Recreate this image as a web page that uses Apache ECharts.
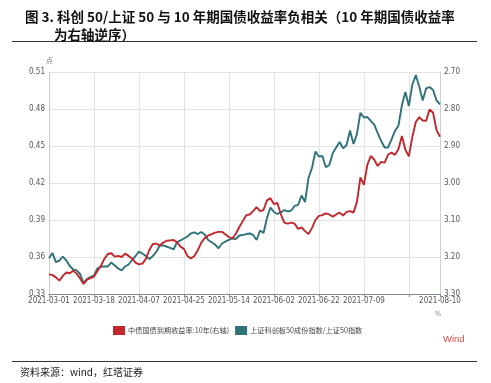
<!DOCTYPE html>
<html>
<head>
<meta charset="utf-8">
<script src="https://cdn.jsdelivr.net/npm/echarts@6/dist/echarts.min.js"></script>
<style>
html,body{margin:0;padding:0;background:#fff;}
#c{width:491px;height:383px;}
</style>
</head>
<body>
<div id="c"></div>
<script>
// Trading dates (category axis)
var dates = [
"2021-03-01","2021-03-02","2021-03-03","2021-03-04","2021-03-05","2021-03-08","2021-03-09","2021-03-10","2021-03-11","2021-03-12",
"2021-03-15","2021-03-16","2021-03-17","2021-03-18","2021-03-19","2021-03-22","2021-03-23","2021-03-24","2021-03-25","2021-03-26",
"2021-03-29","2021-03-30","2021-03-31","2021-04-01","2021-04-02","2021-04-06","2021-04-07","2021-04-08","2021-04-09","2021-04-12",
"2021-04-13","2021-04-14","2021-04-15","2021-04-16","2021-04-19","2021-04-20","2021-04-21","2021-04-22","2021-04-23","2021-04-25",
"2021-04-26","2021-04-27","2021-04-28","2021-04-29","2021-04-30","2021-05-06","2021-05-07","2021-05-08","2021-05-10","2021-05-11",
"2021-05-12","2021-05-13","2021-05-14","2021-05-17","2021-05-18","2021-05-19","2021-05-20","2021-05-21","2021-05-24","2021-05-25",
"2021-05-26","2021-05-27","2021-05-28","2021-05-31","2021-06-01","2021-06-02","2021-06-03","2021-06-04","2021-06-07","2021-06-08",
"2021-06-09","2021-06-10","2021-06-11","2021-06-15","2021-06-16","2021-06-17","2021-06-18","2021-06-21","2021-06-22","2021-06-23",
"2021-06-24","2021-06-25","2021-06-28","2021-06-29","2021-06-30","2021-07-01","2021-07-02","2021-07-05","2021-07-06","2021-07-07",
"2021-07-08","2021-07-09","2021-07-12","2021-07-13","2021-07-14","2021-07-15","2021-07-16","2021-07-19","2021-07-20","2021-07-21",
"2021-07-22","2021-07-23","2021-07-26","2021-07-27","2021-07-28","2021-07-29","2021-07-30","2021-08-02","2021-08-03","2021-08-04",
"2021-08-05","2021-08-06","2021-08-09","2021-08-10"
];
// Series: 中债国债到期收益率:10年 (right axis, inverted)
var bondYield = [
3.247,3.249,3.255,3.264,3.251,3.242,3.244,3.237,3.245,3.258,
3.273,3.261,3.257,3.253,3.238,3.224,3.205,3.192,3.190,3.199,
3.197,3.200,3.191,3.197,3.204,3.215,3.220,3.218,3.205,3.181,
3.165,3.164,3.169,3.161,3.156,3.155,3.154,3.160,3.172,3.178,
3.197,3.204,3.197,3.182,3.161,3.149,3.142,3.138,3.134,3.132,
3.132,3.139,3.146,3.150,3.137,3.119,3.103,3.087,3.085,3.076,
3.065,3.076,3.073,3.047,3.041,3.057,3.054,3.084,3.107,3.110,
3.107,3.110,3.124,3.120,3.130,3.138,3.122,3.100,3.089,3.087,
3.082,3.085,3.091,3.085,3.080,3.088,3.078,3.076,3.080,3.051,
2.985,3.005,2.951,2.927,2.937,2.954,2.943,2.945,2.923,2.918,
2.924,2.908,2.873,2.910,2.928,2.876,2.835,2.822,2.831,2.832,
2.801,2.810,2.857,2.875
];
// Series: 上证科创板50成份指数/上证50指数 (left axis); null = weekend make-up day, no stock trading
var ratio = [
0.3590,0.3632,0.3559,0.3570,0.3604,0.3572,0.3527,0.3499,0.3491,0.3462,
0.3389,0.3422,0.3438,0.3450,0.3507,0.3521,0.3523,0.3523,0.3555,0.3531,
0.3507,0.3491,0.3523,0.3539,0.3576,0.3608,0.3643,0.3628,0.3608,0.3584,
0.3608,0.3641,0.3693,0.3693,0.3685,0.3673,0.3661,0.3720,0.3734,null,
0.3766,0.3791,0.3799,0.3786,0.3803,0.3782,0.3738,null,0.3701,0.3671,
0.3709,0.3726,0.3738,0.3750,0.3746,0.3774,0.3778,0.3786,0.3791,0.3778,
0.3738,0.3815,0.3795,0.3916,0.4001,0.3965,0.3949,0.3961,0.3981,0.3969,
0.3977,0.4014,0.4022,0.4099,0.4046,0.4241,0.4322,0.4455,0.4415,0.4419,
0.4327,0.4346,0.4441,0.4488,0.4532,0.4481,0.4508,0.4626,0.4516,0.4597,
0.4770,0.4731,0.4735,0.4703,0.4674,0.4605,0.4541,0.4488,0.4488,0.4553,
0.4622,0.4666,0.4832,0.4938,0.4824,0.4995,0.5076,0.4982,0.4869,0.4968,
0.4978,0.4954,0.4869,0.4838
];
var leftTicks = [0.33, 0.51, 0.03];
var rightTicks = [2.70, 3.30, 0.10];
var seriesNames = ["中债国债到期收益率:10年(右轴)", "上证科创板50成份指数/上证50指数"];
var titleLine1 = "图 3. 科创 50/上证 50 与 10 年期国债收益率负相关（10 年期国债收益率";
var titleLine2 = "为右轴逆序）";
var sourceText = "资料来源：wind，红塔证券";
</script>
<script>
var RED = '#C1272D', TEAL = '#2D7378';
var narrow = "'Liberation Sans Narrow','DejaVu Sans Condensed','Noto Sans CJK SC',sans-serif";
var chart = echarts.init(document.getElementById('c'), null, {renderer:'canvas'});
var last = dates.length - 1;
chart.setOption({
  animation: false,
  backgroundColor: '#fff',
  title: [
    {text: titleLine1, left: 20, top: 5, textStyle:{fontSize:13.5, fontWeight:'bold', color:'#111', fontFamily:"'Noto Sans CJK SC',sans-serif"}},
    {text: titleLine2, left: 49, top: 23, textStyle:{fontSize:13.5, fontWeight:'bold', color:'#111', fontFamily:"'Noto Sans CJK SC',sans-serif"}}
  ],
  graphic: [
    {type:'line', shape:{x1:12,y1:41.5,x2:477,y2:41.5}, style:{stroke:'#333', lineWidth:1}},
    {type:'line', shape:{x1:12,y1:361.5,x2:477,y2:361.5}, style:{stroke:'#333', lineWidth:1}},
    {type:'text', left:46, top:57, style:{text:'点', fontSize:7, fill:'#777', fontFamily:"'Noto Sans CJK SC',sans-serif"}},
    {type:'text', left:435, top:311, style:{text:'%', fontSize:7, fill:'#777', fontFamily:narrow}},
    {type:'text', left:443, top:334, style:{text:'Wind', fontSize:9.5, fill:'#E0474C', fontFamily:"'Liberation Sans',sans-serif"}},
    {type:'text', left:20, top:367, style:{text:sourceText, fontSize:10, fill:'#222', fontFamily:"'Noto Sans CJK SC',sans-serif"}}
  ],
  legend: {
    left: 108, top: 321, itemWidth: 12, itemHeight: 9, itemGap: 6,
    icon: 'rect',
    textStyle: {fontSize: 7.2, color: '#444', fontFamily: "'Noto Sans CJK SC',sans-serif", padding:[0,0,0,-2]},
    data: [
      {name: seriesNames[0], itemStyle:{color:RED}},
      {name: seriesNames[1], itemStyle:{color:TEAL}}
    ]
  },
  grid: {left: 49, right: 51, top: 72, bottom: 89, containLabel: false},
  xAxis: {
    type: 'category', data: dates, boundaryGap: false,
    axisLine: {show:true, lineStyle:{color:'#7f8c99', width:1}},
    axisTick: {show:true, interval: 12, length: 3, lineStyle:{color:'#7f8c99'}},
    axisLabel: {
      interval: function(i){ return (i % 13 === 0 && i <= 91) || i === last; },
      fontSize: 8, color:'#555', fontFamily: narrow, margin: 3, showMaxLabel: true
    },
    splitLine: {show:true, interval: 12, lineStyle:{color:'#e3e3e3', width:1}}
  },
  yAxis: [
    {
      type:'value', min: leftTicks[0], max: leftTicks[1], interval: leftTicks[2], position:'left',
      axisLine:{show:true, lineStyle:{color:'#d0d0d0'}}, axisTick:{show:false},
      axisLabel:{formatter:function(v){return v.toFixed(2);}, fontSize:8, color:'#555', fontFamily:narrow, margin:4},
      splitLine:{show:true, lineStyle:{color:'#e3e3e3', width:1}}
    },
    {
      type:'value', min: rightTicks[0], max: rightTicks[1], interval: rightTicks[2], position:'right', inverse:true,
      axisLine:{show:true, lineStyle:{color:'#d0d0d0'}}, axisTick:{show:false},
      axisLabel:{formatter:function(v){return v.toFixed(2);}, fontSize:8, color:'#555', fontFamily:narrow, margin:4},
      splitLine:{show:false}
    }
  ],
  series: [
    {name: seriesNames[0], type:'line', yAxisIndex:1, data: bondYield, showSymbol:false, symbol:'none',
     lineStyle:{color:RED, width:1.9}, itemStyle:{color:RED}, z:3},
    {name: seriesNames[1], type:'line', yAxisIndex:0, data: ratio, showSymbol:false, symbol:'none', connectNulls:true,
     lineStyle:{color:TEAL, width:1.9}, itemStyle:{color:TEAL}, z:2}
  ]
});
</script>
</body>
</html>
